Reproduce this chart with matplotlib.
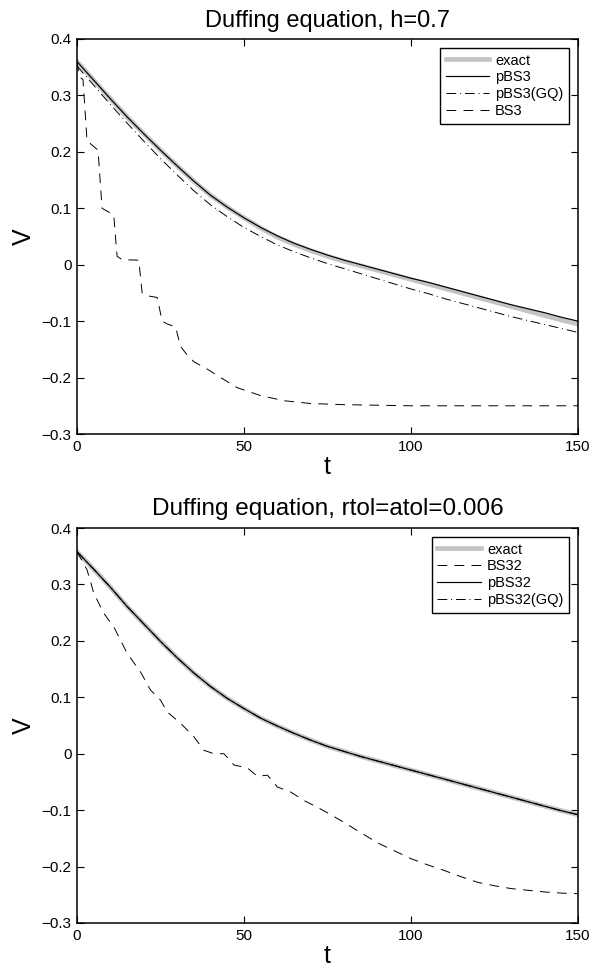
import matplotlib.pyplot as plt

plt.rcParams['font.family'] = ['Liberation Sans', 'DejaVu Sans']

# --- top panel: fixed step h=0.7 ---
t_top = [0, 5, 10, 15, 20, 25, 30, 35, 40, 45, 50, 55, 60, 65, 70, 75, 80, 85,
         90, 95, 100, 105, 110, 115, 120, 125, 130, 135, 140, 145, 150]
exact_top = [0.360, 0.327, 0.294, 0.262, 0.232, 0.203, 0.175, 0.148, 0.123, 0.102,
             0.083, 0.065, 0.049, 0.036, 0.025, 0.015, 0.006, -0.002, -0.010, -0.018,
             -0.026, -0.034, -0.042, -0.050, -0.058, -0.066, -0.074, -0.082, -0.090,
             -0.098, -0.105]
pbs3_top = [0.360, 0.327, 0.294, 0.262, 0.232, 0.203, 0.175, 0.148, 0.123, 0.102,
            0.083, 0.066, 0.051, 0.038, 0.027, 0.017, 0.008, 0.000, -0.008, -0.016,
            -0.024, -0.031, -0.039, -0.047, -0.055, -0.063, -0.071, -0.078, -0.085,
            -0.093, -0.100]
pbs3gq_top = [0.352, 0.318, 0.284, 0.251, 0.219, 0.188, 0.159, 0.131, 0.106, 0.085,
              0.066, 0.050, 0.035, 0.023, 0.012, 0.002, -0.007, -0.016, -0.025, -0.034,
              -0.043, -0.051, -0.060, -0.068, -0.076, -0.084, -0.092, -0.099, -0.106,
              -0.113, -0.120]
t_bs3 = [0, 0.7, 1.8, 3, 4.5, 6.3, 7.5, 9, 11, 12, 13.5, 18.5, 19.5, 21, 24, 25.5,
         27, 29.5, 31, 33, 35, 39, 43, 48, 55, 62, 70, 80, 90, 100, 120, 150]
bs3_top = [0.360, 0.333, 0.328, 0.220, 0.212, 0.203, 0.100, 0.095, 0.088, 0.015,
           0.009, 0.008, -0.050, -0.055, -0.058, -0.100, -0.105, -0.110, -0.145,
           -0.160, -0.172, -0.185, -0.200, -0.218, -0.232, -0.241, -0.246, -0.248,
           -0.249, -0.250, -0.250, -0.250]

# --- bottom panel: adaptive, rtol=atol=0.006 ---
t_bot = t_top
exact_bot = [0.358, 0.327, 0.295, 0.261, 0.230, 0.199, 0.170, 0.143, 0.119, 0.098,
             0.080, 0.063, 0.049, 0.036, 0.024, 0.013, 0.004, -0.005, -0.013, -0.021,
             -0.029, -0.037, -0.045, -0.053, -0.061, -0.069, -0.077, -0.085, -0.093,
             -0.101, -0.108]
pbs32_bot = exact_bot
pbs32gq_bot = exact_bot
t_bs32 = [0, 3, 5, 8, 11, 15, 19, 22, 25, 27, 31, 35, 38, 41, 44, 47, 51, 54, 57,
          60, 64, 68, 72, 76, 80, 85, 90, 95, 100, 105, 110, 115, 120, 125, 130,
          135, 140, 145, 150]
bs32_bot = [0.358, 0.326, 0.285, 0.249, 0.225, 0.178, 0.145, 0.113, 0.095, 0.074,
            0.054, 0.030, 0.006, 0.000, 0.000, -0.020, -0.025, -0.040, -0.038,
            -0.059, -0.068, -0.083, -0.095, -0.108, -0.122, -0.140, -0.158, -0.172,
            -0.186, -0.197, -0.207, -0.218, -0.228, -0.234, -0.239, -0.242, -0.245,
            -0.247, -0.248]

yticks = [-0.3, -0.2, -0.1, 0, 0.1, 0.2, 0.3, 0.4]
ytick_labels = ['\u22120.3', '\u22120.2', '\u22120.1', '0', '0.1', '0.2', '0.3', '0.4']
xticks = [0, 50, 100, 150]

GRAY = '#c4c4c4'
dashed = (0, (10, 7.5))
dashdot = (0, (10, 4, 1, 4))

fig = plt.figure(figsize=(5.96, 9.69), dpi=100)
ax1 = fig.add_axes([77 / 596, 1 - 434 / 969, 501 / 596, 395 / 969])
ax2 = fig.add_axes([77 / 596, 1 - 923 / 969, 501 / 596, 395 / 969])


def style(ax, title, tsize):
    ax.set_xlim(0, 150)
    ax.set_ylim(-0.3, 0.4)
    ax.set_xticks(xticks)
    ax.set_xticklabels([str(x) for x in xticks])
    ax.set_yticks(yticks)
    ax.set_yticklabels(ytick_labels)
    ax.tick_params(direction='in', top=True, right=True, length=5, width=0.8,
                   labelsize=11, pad=4)
    for s in ax.spines.values():
        s.set_linewidth(1.1)
    ax.set_xlabel('t', fontsize=18, labelpad=1)
    ax.set_ylabel('V', fontsize=18, labelpad=4)
    ax.set_title(title, fontsize=tsize, pad=9)


ax1.plot(t_top, exact_top, color=GRAY, lw=3.4, label='exact')
ax1.plot(t_top, pbs3_top, color='black', lw=0.85, label='pBS3')
ax1.plot(t_top, pbs3gq_top, color='black', lw=0.7, linestyle=dashdot, label='pBS3(GQ)')
ax1.plot(t_bs3, bs3_top, color='black', lw=0.7, linestyle=dashed, label='BS3')
style(ax1, 'Duffing equation, h=0.7', 17)

ax2.plot(t_bot, exact_bot, color=GRAY, lw=3.4, label='exact')
ax2.plot(t_bs32, bs32_bot, color='black', lw=0.7, linestyle=dashed, label='BS32')
ax2.plot(t_bot, pbs32_bot, color='black', lw=0.85, label='pBS32')
ax2.plot(t_bot, pbs32gq_bot, color='black', lw=0.7, linestyle=dashdot, label='pBS32(GQ)')
style(ax2, 'Duffing equation, rtol=atol=0.006', 17.5)

for ax in (ax1, ax2):
    leg = ax.legend(loc='upper right', fontsize=10.5, frameon=True, fancybox=False,
                    edgecolor='black', framealpha=1, handlelength=3.0,
                    handletextpad=0.4, labelspacing=0.2, borderpad=0.4,
                    borderaxespad=0.6)
    leg.get_frame().set_linewidth(1.0)

fig.savefig('out.png', dpi=100)
